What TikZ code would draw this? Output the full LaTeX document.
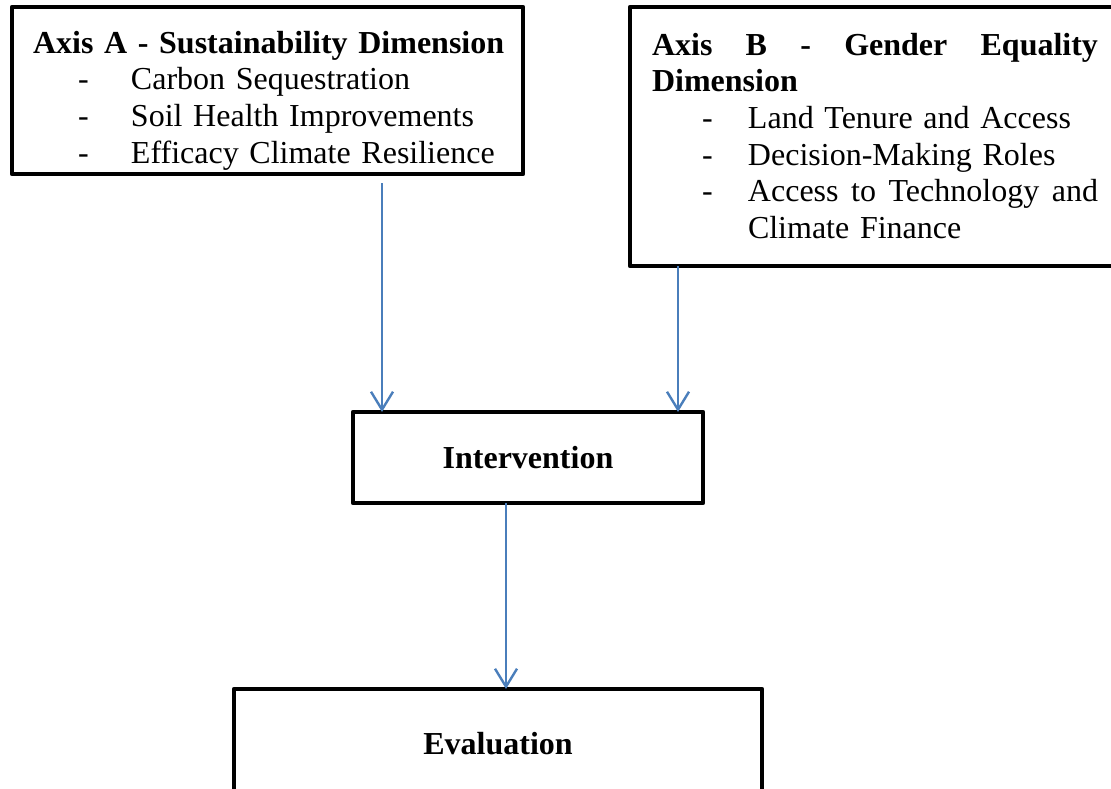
\documentclass[tikz,border=0pt]{standalone}
\usepackage{fontspec}
\setmainfont{Liberation Serif}
\usepackage{tikz}
\usetikzlibrary{arrows.meta}
\definecolor{linkblue}{HTML}{4A7EBB}
\tikzstyle{every node}=[inner sep=0pt,outer sep=0pt]
\tikzstyle{box}=[draw=black,line width=4.5pt,line join=round,anchor=north west]
\tikzstyle{boxtext}=[anchor=base west,align=left,font=\fontsize{32}{36.7}\selectfont]
\tikzstyle{link}=[draw=linkblue,line width=2.4pt,-{Straight Barb[length=18pt,width=22pt]}]
\newcommand{\itemA}[1]{\hspace*{45pt}\makebox[53pt][l]{-}#1}
\newcommand{\itemB}[1]{\hspace*{50pt}\makebox[46pt][l]{-}#1}

\begin{document}
\begin{tikzpicture}[x=1pt,y=-1pt]
        \useasboundingbox (0,0) rectangle (1111,788);
        \clip (0,0) rectangle (1111,788);
        % the two axes
        \node[box,minimum width=511pt,minimum height=167pt] (axisA) at (12,7) {};
        \node[boxtext,text width=490pt] (axisAtext) at (33,53) {%
          \textbf{Axis A - Sustainability Dimension}\\
          \itemA{Carbon Sequestration}\\
          \itemA{Soil Health Improvements}\\
          \itemA{Efficacy Climate Resilience}};
        \node[box,minimum width=600pt,minimum height=259pt] (axisB) at (630,7) {};
        \node[boxtext,text width=446pt] (axisBtext) at (652,55) {%
          \hbox to 446pt{\bfseries Axis\hfill B\hfill -\hfill Gender\hfill Equality}\\
          \textbf{Dimension}\\
          \itemB{Land Tenure and Access}\\
          \itemB{Decision-Making Roles}\\
          \itemB{\hbox to 350pt{Access\hfill to\hfill Technology\hfill and}}\\
          \hspace*{96pt}Climate Finance};
        % intervention and evaluation
        \node[box,minimum width=350pt,minimum height=91pt,font=\bfseries\fontsize{32}{36.7}\selectfont] (interv) at (353,412) {Intervention};
        \node[box,minimum width=528pt,minimum height=110pt,font=\bfseries\fontsize{32}{36.7}\selectfont] (eval) at (234,689) {Evaluation};
        \coordinate (aStart) at (382,183);
        \coordinate (bStart) at ([xshift=48pt]axisB.south west);
        \coordinate (cStart) at ([xshift=-22pt]interv.south);
        \draw[link] (aStart) -- (aStart |- interv.north);
        \draw[link] (bStart) -- (bStart |- interv.north);
        \draw[link] (cStart) -- (cStart |- eval.north);
\end{tikzpicture}
\end{document}
